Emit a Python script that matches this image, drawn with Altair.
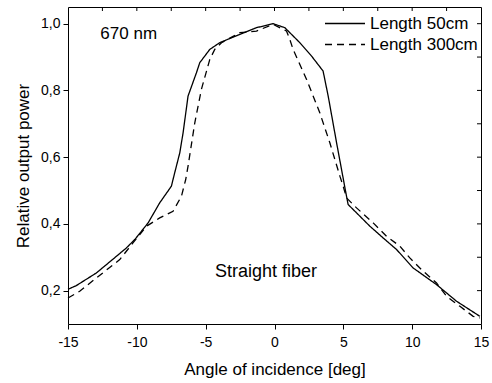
import altair as alt
import pandas as pd

series_names = ["Length 50cm", "Length 300cm"]

angle_50 = [-15, -14.4, -12.94, -11.48, -10.76, -10.15, -9.18, -8.34, -7.49, -7.25, -6.88,
            -6.64, -6.28, -5.67, -5.43, -4.70, -3.98, -2.52, -1.31, -0.1, 0.75, 1.84, 2.69,
            3.53, 3.90, 4.51, 5.23, 5.35, 5.96, 6.93, 7.89, 8.87, 10.07, 11.77, 13.23, 14.92]
power_50 = [0.204, 0.215, 0.253, 0.303, 0.328, 0.353, 0.403, 0.463, 0.513, 0.553, 0.613,
            0.673, 0.783, 0.853, 0.883, 0.923, 0.943, 0.968, 0.988, 1.0, 0.988, 0.943, 0.903,
            0.858, 0.783, 0.643, 0.483, 0.458, 0.433, 0.393, 0.358, 0.323, 0.268, 0.218, 0.168, 0.123]

angle_300 = [-15, -14.15, -12.94, -11.24, -10.28, -9.30, -8.34, -7.37, -6.76, -6.45, -6.28,
             -5.79, -5.31, -4.70, -4.34, -3.85, -2.52, -1.31, -0.1, 0.87, 1.11, 1.35, 2.33,
             3.29, 4.02, 4.75, 4.99, 5.23, 5.96, 7.17, 8.14, 9.11, 9.83, 10.68, 11.77, 12.50,
             13.47, 14.43, 14.92]
power_300 = [0.178, 0.198, 0.238, 0.293, 0.343, 0.393, 0.418, 0.438, 0.483, 0.533, 0.573,
             0.703, 0.803, 0.893, 0.923, 0.943, 0.973, 0.978, 0.998, 0.978, 0.953, 0.923, 0.833,
             0.733, 0.643, 0.543, 0.513, 0.478, 0.448, 0.403, 0.363, 0.333, 0.298, 0.263, 0.223,
             0.183, 0.153, 0.123, 0.118]

x_ticks = [-15, -12.5, -10, -7.5, -5, -2.5, 0, 2.5, 5, 7.5, 10, 12.5, 15]
y_ticks = [0.2, 0.3, 0.4, 0.5, 0.6, 0.7, 0.8, 0.9, 1.0]
top_ticks = [-12.5, -10, -7.5, -5, -2.5, 0, 2.5, 5, 7.5, 10, 12.5]
right_ticks = [0.2, 0.3, 0.4, 0.5, 0.6, 0.7, 0.8, 0.9, 1.0]

annot_text = ["670 nm", "Straight fiber"]
annot_x = [-12.65, -0.62]
annot_y = [0.97, 0.255]
annot_align = ["left", "center"]
annot_size = [17, 18]

rows = []
for i, (a, p) in enumerate(zip(angle_50, power_50)):
    rows.append({"angle": a, "power": p, "series": series_names[0], "order": i})
for i, (a, p) in enumerate(zip(angle_300, power_300)):
    rows.append({"angle": a, "power": p, "series": series_names[1], "order": i})
df = pd.DataFrame(rows)

ann = pd.DataFrame({"text": annot_text, "x": annot_x, "y": annot_y})
top_df = pd.DataFrame({"t": top_ticks})
right_df = pd.DataFrame({"t": right_ticks})

FONT = "Liberation Sans"
W, H = 413, 317
x_scale = alt.Scale(domain=[-15, 15], nice=False, zero=False)
y_scale = alt.Scale(domain=[0.1, 1.05], nice=False, zero=False)

lines = alt.Chart(df).mark_line(color="black", strokeWidth=1.3).encode(
    x=alt.X("angle:Q", scale=x_scale,
            axis=alt.Axis(title="Angle of incidence [deg]", values=x_ticks,
                          labelExpr="datum.value % 5 == 0 ? '' + datum.value : ''",
                          tickSize=5, labelPadding=6, titlePadding=12,
                          labelFontSize=14, titleFontSize=17,
                          labelOverlap=False, labelFlush=False)),
    y=alt.Y("power:Q", scale=y_scale,
            axis=alt.Axis(title="Relative output power", values=y_ticks,
                          labelExpr="round(datum.value*10) % 2 == 0 ? replace(format(datum.value, '.1f'), '.', ',') : ''",
                          tickSize={"condition": {"test": "round(datum.value*10) % 2 == 0", "value": 5}, "value": 3},
                          labelPadding=3, titlePadding=8,
                          labelFontSize=14, titleFontSize=17,
                          labelOverlap=False, labelFlush=False)),
    strokeDash=alt.StrokeDash("series:N",
                              scale=alt.Scale(domain=series_names, range=[[1, 0], [7, 5]]),
                              legend=alt.Legend(title=None, orient="none", legendX=256, legendY=8,
                                                symbolType="stroke", symbolSize=1600,
                                                symbolStrokeWidth=1.3, symbolStrokeColor="black",
                                                labelFontSize=17, labelFont=FONT, labelColor="black",
                                                labelOffset=4, rowPadding=3, padding=0,
                                                clipHeight=17)),
    order="order:Q",
)

top_tk = alt.Chart(top_df).mark_rule(color="black", strokeWidth=1).encode(
    x=alt.X("t:Q", scale=x_scale),
    y=alt.value(0), y2=alt.value(4),
)
right_tk = alt.Chart(right_df).mark_rule(color="black", strokeWidth=1).encode(
    y=alt.Y("t:Q", scale=y_scale),
    x=alt.value(W - 4), x2=alt.value(W),
)

t1 = alt.Chart(ann.iloc[[0]]).mark_text(font=FONT, color="black", baseline="middle",
                                          align=annot_align[0], fontSize=annot_size[0]).encode(
    x=alt.X("x:Q", scale=x_scale),
    y=alt.Y("y:Q", scale=y_scale),
    text="text:N",
)
t2 = alt.Chart(ann.iloc[[1]]).mark_text(font=FONT, color="black", baseline="middle",
                                          align=annot_align[1], fontSize=annot_size[1]).encode(
    x=alt.X("x:Q", scale=x_scale),
    y=alt.Y("y:Q", scale=y_scale),
    text="text:N",
)

chart = alt.layer(lines, top_tk, right_tk, t1, t2).properties(
    width=W, height=H,
    autosize=alt.AutoSizeParams(type="none"),
    padding={"left": 68, "top": 7, "right": 11, "bottom": 59},
    background="white",
).configure_view(
    stroke="black", strokeWidth=1
).configure_axis(
    grid=False, domain=False, tickColor="black", tickWidth=1,
    labelColor="black", titleColor="black",
    labelFont=FONT, titleFont=FONT, titleFontWeight="normal",
)

chart.save("out.html", embed_options={"renderer": "svg", "actions": False})
